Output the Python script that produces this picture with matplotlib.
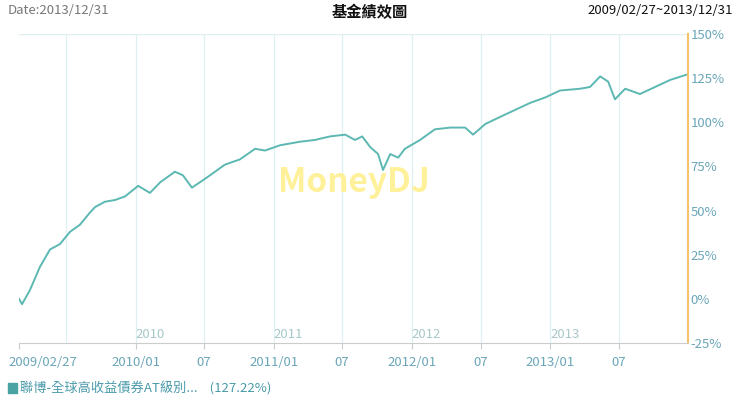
import matplotlib
matplotlib.use("Agg")
import matplotlib.pyplot as plt
import matplotlib.transforms as mtrans
import numpy as np

plt.rcParams['font.family'] = ['Noto Sans CJK TC', 'DejaVu Sans']

dates = ["2009-02-27","2009-03-07","2009-03-28","2009-04-23","2009-05-20","2009-06-15","2009-07-12",
 "2009-08-07","2009-09-03","2009-09-16","2009-10-12","2009-11-08","2009-12-04","2010-01-08","2010-02-08",
 "2010-03-07","2010-04-15","2010-05-06","2010-05-30","2010-06-20","2010-07-17","2010-08-25","2010-10-04",
 "2010-11-13","2010-12-09","2011-01-18","2011-03-12","2011-04-20","2011-05-30","2011-07-09","2011-08-04",
 "2011-08-23","2011-09-13","2011-10-04","2011-10-17","2011-11-05","2011-11-26","2011-12-14","2012-01-23",
 "2012-03-02","2012-04-11","2012-05-21","2012-06-11","2012-07-13","2012-08-21","2012-09-30","2012-11-09",
 "2012-12-18","2013-01-27","2013-03-21","2013-04-16","2013-05-13","2013-06-03","2013-06-21","2013-07-18",
 "2013-08-26","2013-10-05","2013-11-14","2013-12-31"]
values = [0,-3,5,18,28,31,38,42,49,52,55,56,58,64,60,66,72,70,63,66,70,76,79,85,84,87,89,90,92,93,90,92,
 86,82,73,82,80,85,90,96,97,97,93,99,103,107,111,114,118,119,120,126,123,113,119,116,120,124,127.22]
yticks = [-25,0,25,50,75,100,125,150]
xtick_dates = ["2009-02-27","2010-01-01","2010-07-01","2011-01-01","2011-07-01","2012-01-01","2012-07-01","2013-01-01","2013-07-01"]
xtick_labels = ["2009/02/27","2010/01","07","2011/01","07","2012/01","07","2013/01","07"]
grid_dates = ["2009-07-01","2010-01-01","2010-07-01","2011-01-01","2011-07-01","2012-01-01","2012-07-01","2013-01-01","2013-07-01"]
years = ["2010","2011","2012","2013"]

d = np.array(dates, dtype="datetime64[D]").astype("O")
fig = plt.figure(figsize=(7.4,4.09), dpi=100)
ax = fig.add_axes([19/740, 66/409, 669/740, 309/409])
lc = "#5cb8b2"
ax.plot(d, values, color=lc, lw=1.4)
ax.set_xlim(np.datetime64("2009-02-27").astype("O"), np.datetime64("2013-12-31").astype("O"))
ax.set_ylim(-25,150)
for g in np.array(grid_dates, dtype="datetime64[D]").astype("O"):
    ax.axvline(g, color="#dff0f0", lw=0.9, zorder=0)
ax.axhline(150, color="#dfeeee", lw=1)
ax.set_xticks(np.array(xtick_dates, dtype="datetime64[D]").astype("O"))
ax.set_xticklabels(xtick_labels, color="#6aa6b8", fontsize=9.5)
ax.yaxis.tick_right()
ax.set_yticks(yticks)
ax.set_yticklabels([f"{v}%" for v in yticks], color="#6aa6b8", fontsize=9.5)
ax.tick_params(axis='y', length=0, pad=2)
ax.tick_params(axis='x', length=4, color="#cccccc", pad=5)
first = ax.get_xticklabels()[0]
first.set_ha("left")
first.set_transform(first.get_transform() + mtrans.ScaledTranslation(-11/100, 0, fig.dpi_scale_trans))
for s in ["top","left"]:
    ax.spines[s].set_visible(False)
ax.spines["right"].set_color("#f5c46a"); ax.spines["right"].set_linewidth(1.5)
ax.spines["bottom"].set_color("#cccccc")
for y in years:
    ax.text(np.datetime64(y+"-01-01").astype("O"), -20, y, color="#a8c8c8", fontsize=9.5, ha="left", va="center")
ax.text(0.5, 0.52, "MoneyDJ", transform=ax.transAxes, color="#fff09a", fontsize=24, fontweight="bold", ha="center", va="center", zorder=0)
fig.text(8/740, 1-11/409, "Date:2013/12/31", color="#777777", fontsize=9.5, va="center")
fig.text(370/740, 1-12/409, "基金績效圖", color="#111111", fontsize=11, fontweight="bold", ha="center", va="center")
fig.text(733/740, 1-11/409, "2009/02/27~2013/12/31", color="#111111", fontsize=9.5, ha="right", va="center")
fig.patches.append(plt.Rectangle((8/740, 1-393/409), 9/740, 10/409, transform=fig.transFigure, color="#4aa3a3"))
fig.text(20/740, 1-388/409, "聯博-全球高收益債券AT級別...    (127.22%)", color="#4a9aaa", fontsize=9.5, va="center")
fig.savefig("out.png", dpi=100)
